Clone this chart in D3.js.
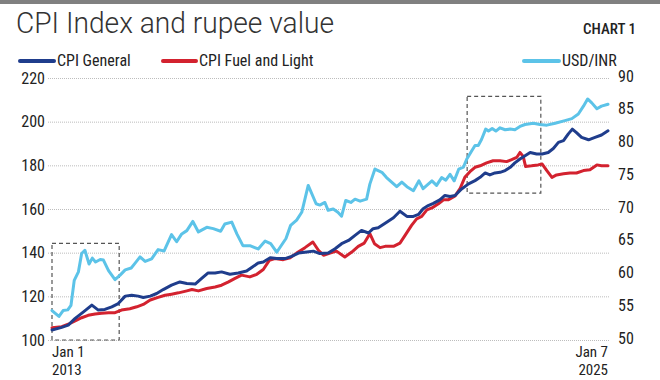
<!DOCTYPE html>
<html><head><meta charset="utf-8">
<script src="https://cdn.jsdelivr.net/npm/d3@7"></script>
<style>
html,body{margin:0;padding:0;background:#fff;}
svg{display:block;}
</style></head>
<body><svg id="c" width="660" height="380"></svg>
<script>
const title = "CPI Index and rupee value";
const chartTag = "CHART 1";
const seriesNames = ["CPI General", "CPI Fuel and Light", "USD/INR"];
const leftTicks = [100, 120, 140, 160, 180, 200, 220];
const rightTicks = [50, 55, 60, 65, 70, 75, 80, 85, 90];
const xTickLabels = [["Jan 1", "2013"], ["Jan 7", "2025"]];
const xTickYears = [2013, 2025];

const cpiYears = [2013.00,2013.21,2013.35,2013.50,2013.68,2013.86,2014.00,2014.14,2014.29,2014.43,2014.58,2014.72,2014.86,2014.97,2015.12,2015.26,2015.40,2015.58,2015.76,2015.91,2016.09,2016.23,2016.37,2016.52,2016.66,2016.84,2017.02,2017.20,2017.31,2017.45,2017.56,2017.71,2017.85,2018.03,2018.17,2018.32,2018.50,2018.64,2018.78,2018.96,2019.11,2019.25,2019.40,2019.54,2019.68,2019.83,2019.93,2020.04,2020.19,2020.37,2020.51,2020.66,2020.80,2020.91,2021.01,2021.12,2021.23,2021.37,2021.48,2021.59,2021.70,2021.84,2021.99,2022.13,2022.24,2022.35,2022.45,2022.56,2022.67,2022.78,2022.89,2022.99,2023.10,2023.21,2023.32,2023.46,2023.58,2023.71,2023.82,2023.93,2024.04,2024.14,2024.23,2024.32,2024.43,2024.58,2024.72,2024.86,2025.00];
const cpiValues = [104.6,105.8,106.8,109.9,112.9,116.0,113.7,114.0,115.2,116.7,120.1,120.5,120.1,119.5,120.1,121.3,123.1,125.1,126.6,125.9,125.6,128.2,130.7,130.7,131.2,130.1,130.7,131.6,133.2,135.3,135.7,137.7,137.3,137.3,138.3,139.8,140.3,140.7,139.6,139.8,141.8,144.1,145.6,147.9,150.2,149.0,151.0,151.4,153.5,156.0,159.0,156.6,156.6,157.5,160.1,161.6,162.6,164.2,166.2,165.7,166.2,169.2,171.5,173.0,174.5,176.5,175.6,176.5,176.8,177.6,179.1,181.1,182.9,184.4,185.9,185.2,185.2,185.9,187.7,190.5,191.3,194.3,196.6,195.0,192.8,191.7,192.8,193.9,195.8];

const fuelYears = [2013.00,2013.21,2013.35,2013.50,2013.64,2013.78,2013.93,2014.07,2014.22,2014.36,2014.50,2014.68,2014.83,2014.97,2015.12,2015.29,2015.44,2015.58,2015.73,2015.91,2016.02,2016.16,2016.34,2016.52,2016.66,2016.81,2016.95,2017.09,2017.27,2017.42,2017.56,2017.69,2017.81,2017.99,2018.14,2018.28,2018.46,2018.63,2018.75,2018.86,2019.00,2019.14,2019.32,2019.47,2019.61,2019.74,2019.86,2019.96,2020.08,2020.19,2020.37,2020.51,2020.62,2020.76,2020.87,2020.98,2021.09,2021.20,2021.34,2021.45,2021.55,2021.70,2021.81,2021.91,2022.02,2022.13,2022.24,2022.38,2022.52,2022.67,2022.81,2022.92,2023.03,2023.10,2023.17,2023.22,2023.35,2023.49,2023.58,2023.68,2023.79,2023.89,2024.04,2024.18,2024.32,2024.47,2024.61,2024.76,2024.86,2025.00];
const fuelValues = [105.6,106.1,107.2,108.8,110.2,111.3,111.9,112.2,112.5,112.5,113.7,114.3,115.2,116.3,118.3,119.5,120.5,121.0,121.6,122.5,123.1,122.5,123.6,124.3,125.1,126.6,128.2,129.7,128.9,130.1,132.3,136.5,137.3,136.8,137.7,139.8,142.3,144.9,141.1,138.8,139.8,140.7,138.0,140.3,142.9,144.4,148.7,144.1,142.3,142.9,142.9,144.4,147.9,152.5,155.5,156.6,159.6,160.5,162.4,164.2,164.2,166.0,169.5,174.5,177.1,179.1,179.8,181.1,182.1,182.1,181.7,182.6,183.6,185.9,184.1,179.5,179.8,180.2,180.6,177.6,174.5,175.6,176.1,176.5,176.5,177.6,178.0,180.2,179.8,179.8];

const usdYears = [2013.00,2013.15,2013.24,2013.34,2013.41,2013.48,2013.57,2013.64,2013.71,2013.80,2013.87,2013.94,2014.04,2014.11,2014.22,2014.36,2014.47,2014.58,2014.71,2014.79,2014.90,2015.01,2015.15,2015.29,2015.42,2015.58,2015.69,2015.80,2015.91,2016.04,2016.16,2016.34,2016.48,2016.64,2016.73,2016.88,2016.99,2017.12,2017.27,2017.45,2017.60,2017.72,2017.85,2018.05,2018.15,2018.28,2018.39,2018.53,2018.70,2018.78,2018.89,2018.96,2019.07,2019.17,2019.25,2019.34,2019.45,2019.54,2019.65,2019.79,2019.86,2019.97,2020.12,2020.22,2020.33,2020.44,2020.55,2020.66,2020.80,2020.92,2021.01,2021.20,2021.30,2021.41,2021.50,2021.59,2021.68,2021.78,2021.88,2021.95,2022.06,2022.13,2022.20,2022.27,2022.36,2022.42,2022.50,2022.58,2022.67,2022.78,2022.89,2022.99,2023.10,2023.21,2023.39,2023.53,2023.68,2023.86,2024.07,2024.22,2024.36,2024.47,2024.56,2024.65,2024.76,2024.86,2025.00];
const usdValues = [54.5,53.6,54.5,54.6,55.3,59.1,60.4,63.2,63.7,61.6,62.5,61.9,62.3,62.2,60.6,59.2,59.9,60.7,61.0,61.7,62.7,62.0,62.4,63.8,63.6,66.1,65.0,66.2,66.7,68.1,66.5,67.2,67.0,66.6,67.7,68.0,66.2,64.4,64.4,63.9,65.1,64.7,63.4,65.5,67.5,68.3,69.5,73.6,70.8,70.6,71.0,69.8,70.0,69.5,68.9,71.3,71.0,71.5,71.2,71.5,73.8,76.1,75.6,74.8,74.1,73.4,74.1,73.4,72.8,74.3,73.1,74.3,73.6,74.8,74.4,75.3,74.3,76.1,76.4,77.6,78.9,79.7,79.7,80.6,82.2,81.9,82.3,81.9,82.4,82.1,82.2,82.1,82.6,82.9,83.1,82.9,82.8,83.1,83.5,83.8,84.5,85.7,86.8,86.2,85.3,85.7,86.0];

// highlighted periods: [startYear, endYear, lowCPI, highCPI]
const highlightBoxes = [[2013.0, 2014.45, 100, 144.3], [2021.96, 2023.55, 167.3, 211.6]];

const colors = {cpi: "#1f3d8c", fuel: "#d3222f", usd: "#5cc3e8"};
const labelFont = "'Liberation Sans Narrow', 'Roboto Condensed', 'Arial Narrow', Roboto, sans-serif";

const svg = d3.select("#c");
const x = d3.scaleLinear().domain([2013, 2025]).range([52, 608]);
const yL = d3.scaleLinear().domain([100, 220]).range([340, 78]);
const yR = d3.scaleLinear().domain([50, 90]).range([340, 78]);

// top bar
svg.append("rect").attr("x", 0).attr("y", 0).attr("width", 660).attr("height", 4).attr("fill", "#808080");

// title
svg.append("text").attr("x", 16).attr("y", 33).text(title)
  .attr("font-family", "Roboto, 'Open Sans', sans-serif").attr("font-weight", 300)
  .attr("font-size", 30).attr("fill", "#333")
  .attr("textLength", 318).attr("lengthAdjust", "spacingAndGlyphs");
svg.append("text").attr("x", 636).attr("y", 34).attr("text-anchor", "end").text(chartTag)
  .attr("font-family", labelFont).attr("font-size", 15).attr("font-weight", 500).attr("fill", "#222");

// gridlines
svg.append("g").selectAll("line").data(leftTicks).join("line")
  .attr("x1", 48).attr("x2", 610)
  .attr("y1", d => yL(d) + 0.5).attr("y2", d => yL(d) + 0.5)
  .attr("stroke", "#bdbdbd").attr("stroke-width", 1).attr("stroke-dasharray", "1,1");

// axes
const axL = svg.append("g").attr("transform", "translate(45,0)")
  .call(d3.axisLeft(yL).tickValues(leftTicks).tickSize(0).tickPadding(0));
const axR = svg.append("g").attr("transform", "translate(618,0)")
  .call(d3.axisRight(yR).tickValues(rightTicks).tickSize(0).tickPadding(0));
[axL, axR].forEach(a => {
  a.select(".domain").remove();
  a.selectAll("text").attr("font-family", labelFont).attr("font-size", 16).attr("fill", "#222");
});
axR.selectAll("text").attr("dy", "0.2em");

// x labels
const xl = svg.append("g").selectAll("text").data(xTickYears).join("text")
  .attr("x", d => x(d)).attr("text-anchor", (d, i) => i === 0 ? "start" : "end")
  .attr("font-family", labelFont).attr("font-size", 15).attr("fill", "#222");
xl.append("tspan").attr("x", d => x(d)).attr("y", 357).text((d, i) => xTickLabels[i][0]);
xl.append("tspan").attr("x", d => x(d)).attr("y", 375).text((d, i) => xTickLabels[i][1]);

// highlight boxes
svg.append("g").selectAll("rect").data(highlightBoxes).join("rect")
  .attr("x", d => x(d[0])).attr("y", d => yL(d[3]))
  .attr("width", d => x(d[1]) - x(d[0])).attr("height", d => yL(d[2]) - yL(d[3]))
  .attr("fill", "none").attr("stroke", "#555").attr("stroke-width", 1.2).attr("stroke-dasharray", "4,3");

// lines
const mk = (ys, vs) => ys.map((t, i) => [t, vs[i]]);
const lineL = d3.line().x(d => x(d[0])).y(d => yL(d[1]));
const lineR = d3.line().x(d => x(d[0])).y(d => yR(d[1]));
const g = svg.append("g").attr("fill", "none").attr("stroke-width", 3).attr("stroke-linejoin", "round").attr("stroke-linecap", "round");
g.append("path").attr("d", lineR(mk(usdYears, usdValues))).attr("stroke", colors.usd);
g.append("path").attr("d", lineL(mk(fuelYears, fuelValues))).attr("stroke", colors.fuel);
g.append("path").attr("d", lineL(mk(cpiYears, cpiValues))).attr("stroke", colors.cpi);

// legend
const legend = [
  {name: seriesNames[0], c: colors.cpi, x1: 20, x2: 54, tx: 57},
  {name: seriesNames[1], c: colors.fuel, x1: 163, x2: 196, tx: 199},
  {name: seriesNames[2], c: colors.usd, x1: 524, x2: 559, tx: 562}
];
const lg = svg.append("g").selectAll("g").data(legend).join("g");
lg.append("line").attr("x1", d => d.x1).attr("x2", d => d.x2).attr("y1", 61).attr("y2", 61)
  .attr("stroke", d => d.c).attr("stroke-width", 4).attr("stroke-linecap", "round");
lg.append("text").attr("x", d => d.tx).attr("y", 66).text(d => d.name)
  .attr("font-family", labelFont).attr("font-size", 16).attr("fill", "#222");
</script></body></html>
